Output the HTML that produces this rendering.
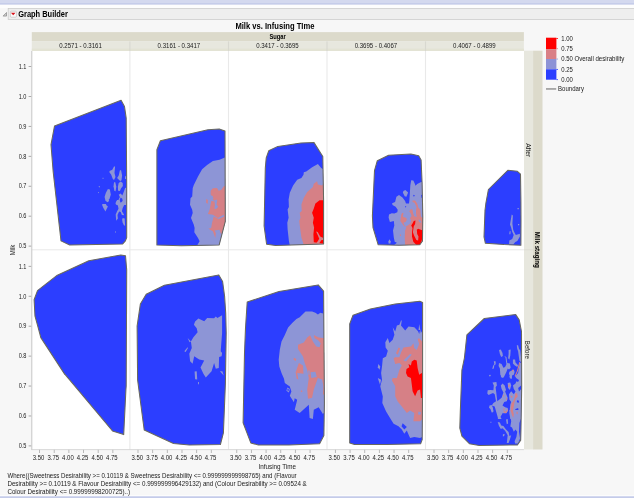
<!DOCTYPE html>
<html><head><meta charset="utf-8"><title>Graph Builder</title>
<style>
html,body{margin:0;padding:0;background:#f7f7f7;}
body{width:634px;height:498px;overflow:hidden;position:relative;font-family:"Liberation Sans", sans-serif;}
svg{position:absolute;left:0;top:0;display:block;}
svg text{font-family:"Liberation Sans", sans-serif;}
</style></head><body>
<svg width="634" height="498" viewBox="0 0 634 498">
<rect x="0" y="0" width="634" height="498" fill="#f7f7f7"/>
<rect x="0" y="0" width="634" height="3" fill="#d4d9ef"/>
<rect x="0" y="3" width="634" height="1.8" fill="#c6cdea"/>
<rect x="0" y="4.8" width="634" height="3.4" fill="#fdfdfd"/>
<rect x="0" y="495.2" width="634" height="1" fill="#fdfdfd"/>
<rect x="0" y="496" width="634" height="1" fill="#d3d8ef"/>
<rect x="0" y="497" width="634" height="1" fill="#c4cbe9"/>
<rect x="8.2" y="8.4" width="634" height="11.1" fill="#eeeeee" stroke="#cdcdcd" stroke-width="0.8"/>
<path d="M3.1 16.1 L6.5 16.1 L6.5 12.5 Z" fill="#cfcfcf" stroke="#777" stroke-width="0.6"/>
<rect x="10.4" y="11.2" width="6" height="6" rx="0.8" fill="#fafafa" stroke="#b9b9b9" stroke-width="0.6"/>
<path d="M10.9 12.7 L15.5 12.7 L13.2 15.3 Z" fill="#d8141c"/>
<text x="18.2" y="16.9" font-size="8.3" text-anchor="start" font-weight="bold" fill="#000" textLength="49.7" lengthAdjust="spacingAndGlyphs">Graph Builder</text>
<text x="274.9" y="28.9" font-size="8.6" text-anchor="middle" font-weight="bold" fill="#000" textLength="79" lengthAdjust="spacingAndGlyphs">Milk vs. Infusing TIme</text>
<rect x="31.8" y="32.1" width="492.09999999999997" height="9" fill="#dcdacb"/>
<text x="277.6" y="38.6" font-size="6.4" text-anchor="middle" font-weight="bold" fill="#000" textLength="16.4" lengthAdjust="spacingAndGlyphs">Sugar</text>
<rect x="31.8" y="41.1" width="492.09999999999997" height="9.9" fill="#e7e7de"/>
<rect x="31.8" y="48.6" width="492.09999999999997" height="2.4" fill="#e3e3d4"/>
<text x="80.55" y="47.8" font-size="6.4" text-anchor="middle" font-weight="normal" fill="#1a1a1a" textLength="42.6" lengthAdjust="spacingAndGlyphs">0.2571 - 0.3161</text>
<text x="178.9" y="47.8" font-size="6.4" text-anchor="middle" font-weight="normal" fill="#1a1a1a" textLength="42.6" lengthAdjust="spacingAndGlyphs">0.3161 - 0.3417</text>
<text x="277.45" y="47.8" font-size="6.4" text-anchor="middle" font-weight="normal" fill="#1a1a1a" textLength="42.6" lengthAdjust="spacingAndGlyphs">0.3417 - 0.3695</text>
<text x="375.95" y="47.8" font-size="6.4" text-anchor="middle" font-weight="normal" fill="#1a1a1a" textLength="42.6" lengthAdjust="spacingAndGlyphs">0.3695 - 0.4067</text>
<text x="474.4" y="47.8" font-size="6.4" text-anchor="middle" font-weight="normal" fill="#1a1a1a" textLength="42.6" lengthAdjust="spacingAndGlyphs">0.4067 - 0.4899</text>
<rect x="129.35" y="41.4" width="1.1" height="9.6" fill="#d8d8d0"/>
<rect x="227.95" y="41.4" width="1.1" height="9.6" fill="#d8d8d0"/>
<rect x="326.45" y="41.4" width="1.1" height="9.6" fill="#d8d8d0"/>
<rect x="424.95" y="41.4" width="1.1" height="9.6" fill="#d8d8d0"/>
<rect x="31.8" y="51.0" width="492.09999999999997" height="398.5" fill="#ffffff"/>
<rect x="524.0" y="50.7" width="9.2" height="398.8" fill="#e7e7de"/>
<rect x="533.1" y="50.7" width="9.4" height="398.8" fill="#dcdacb"/>
<rect x="524.0" y="249.3" width="8.9" height="1" fill="#dddcd3"/>
<text transform="translate(525.5,150.2) rotate(90)" font-size="6.4" text-anchor="middle" fill="#1a1a1a" textLength="14" lengthAdjust="spacingAndGlyphs">After</text>
<text transform="translate(525.4,349.9) rotate(90)" font-size="6.4" text-anchor="middle" fill="#1a1a1a" textLength="18.1" lengthAdjust="spacingAndGlyphs">Before</text>
<text transform="translate(534.9,249.8) rotate(90)" font-size="6.4" font-weight="bold" text-anchor="middle" fill="#000" textLength="36.2" lengthAdjust="spacingAndGlyphs">Milk staging</text>
<defs>
<clipPath id="cpt1"><rect x="31.8" y="51.0" width="97.80000000000001" height="198.8"/></clipPath>
<clipPath id="cot1"><polygon points="54.5,126.1 121.1,100.3 124.5,106.6 126.2,118.2 126.7,184.6 126.7,237.6 125.4,240.9 122.7,243.9 69.7,245.0 61.0,240.9 53.2,172.0 51.0,144.7"/></clipPath>
<clipPath id="cpt2"><rect x="129.9" y="51.0" width="98.3" height="198.8"/></clipPath>
<clipPath id="cot2"><polygon points="156.9,149.7 160.4,140.7 207.9,129.8 219.2,128.9 225.0,131.1 225.3,221.4 219.2,244.9 181.4,245.7 156.9,244.9"/></clipPath>
<clipPath id="cpt3"><rect x="228.5" y="51.0" width="98.2" height="198.8"/></clipPath>
<clipPath id="cot3"><polygon points="265.3,168.1 266.2,158.0 268.7,150.8 277.8,146.4 301.0,142.9 313.9,142.4 322.8,156.5 323.6,201.1 323.6,243.9 275.7,245.5 266.6,244.2 264.1,226.0"/></clipPath>
<clipPath id="cpt4"><rect x="327.0" y="51.0" width="98.2" height="198.8"/></clipPath>
<clipPath id="cot4"><polygon points="374.5,170.6 377.3,160.7 388.6,155.2 410.9,154.1 418.7,155.7 421.1,159.9 422.1,183.1 422.8,216.7 422.5,241.0 419.8,244.8 399.0,245.3 378.2,244.8 373.0,227.5 372.4,216.0"/></clipPath>
<clipPath id="cpt5"><rect x="425.5" y="51.0" width="98.09999999999998" height="198.8"/></clipPath>
<clipPath id="cot5"><polygon points="488.4,189.5 507.8,170.3 517.4,171.3 520.5,174.1 520.9,200.0 521.0,220.5 520.9,245.2 504.0,244.6 485.4,243.3 484.0,236.9 485.0,210.3 485.9,203.1"/></clipPath>
<clipPath id="cpb1"><rect x="31.8" y="249.8" width="97.80000000000001" height="199.7"/></clipPath>
<clipPath id="cob1"><polygon points="34.1,299.7 37.5,290.6 57.3,275.2 88.8,260.8 120.8,255.0 125.5,255.8 126.7,269.9 126.2,386.0 125.9,389.9 123.7,434.6 112.5,430.9 64.8,374.1 64.8,374.4 40.8,337.6 38.3,328.0 35.0,316.2"/></clipPath>
<clipPath id="cpb2"><rect x="129.9" y="249.8" width="98.3" height="199.7"/></clipPath>
<clipPath id="cob2"><polygon points="137.1,326.2 140.4,303.9 146.2,294.3 164.4,285.2 218.8,274.9 222.6,281.5 224.6,296.4 225.7,313.0 226.2,333.1 225.4,383.2 223.4,432.9 220.4,444.5 189.3,444.9 173.5,443.4 144.2,430.0 137.6,379.9"/></clipPath>
<clipPath id="cpb3"><rect x="228.5" y="249.8" width="98.2" height="199.7"/></clipPath>
<clipPath id="cob3"><polygon points="247.2,302.0 279.0,291.5 318.2,284.9 323.6,291.2 324.4,403.1 323.9,435.4 319.6,443.7 288.9,445.0 258.3,445.0 250.8,442.9 243.1,422.7 244.5,353.1 245.5,328.0"/></clipPath>
<clipPath id="cpb4"><rect x="327.0" y="249.8" width="98.2" height="199.7"/></clipPath>
<clipPath id="cob4"><polygon points="349.7,324.0 353.0,315.2 370.4,309.0 395.2,304.1 419.8,301.3 422.6,302.4 422.6,386.6 422.2,439.6 420.6,443.7 386.9,444.5 354.6,444.4 349.7,442.9"/></clipPath>
<clipPath id="cpb5"><rect x="425.5" y="249.8" width="98.09999999999998" height="199.7"/></clipPath>
<clipPath id="cob5"><polygon points="466.9,334.8 484.3,318.5 515.7,314.6 519.2,319.9 521.5,331.5 521.7,386.6 521.0,428.0 520.7,440.2 517.4,445.0 479.3,445.4 469.4,443.7 461.9,436.2 459.8,428.0 460.3,411.4 461.9,370.0 464.4,358.0"/></clipPath>
</defs>
<g clip-path="url(#cpt1)">
<polygon points="54.5,126.1 121.1,100.3 124.5,106.6 126.2,118.2 126.7,184.6 126.7,237.6 125.4,240.9 122.7,243.9 69.7,245.0 61.0,240.9 53.2,172.0 51.0,144.7" fill="#2c3eff"/>
<g clip-path="url(#cot1)">
<polygon points="109.5,171.0 112.3,169.8 114.0,166.6 115.1,166.6 114.5,173.0 115.5,177.0 114.0,179.9 112.7,178.7 111.1,174.6 109.5,172.6" fill="#8d95d6"/>
<polygon points="119.9,170.2 121.1,170.2 122.1,175.4 121.5,180.3 120.3,181.1 119.1,179.9 117.1,177.9 118.7,175.4" fill="#8d95d6"/>
<polygon points="125.1,176.2 126.1,176.2 126.1,179.1 125.1,179.1" fill="#8d95d6"/>
<polygon points="114.0,182.3 115.3,182.3 116.3,186.7 115.5,191.5 114.3,190.3 113.5,186.3" fill="#8d95d6"/>
<polygon points="118.7,183.1 120.7,181.5 122.7,183.1 122.9,185.9 121.1,188.3 119.9,191.1 118.1,190.7 117.9,186.7" fill="#8d95d6"/>
<polygon points="107.9,189.1 109.9,189.5 110.8,194.7 109.5,198.7 107.1,202.1 105.4,200.3 104.6,197.1 105.9,192.7" fill="#8d95d6"/>
<polygon points="125.1,187.9 126.7,187.5 126.7,205.0 116.3,205.0 117.5,201.9 119.9,197.1 118.7,194.7 120.7,193.5 122.3,195.5 123.9,191.5" fill="#8d95d6"/>
<polygon points="120.7,197.5 122.3,198.7 122.7,201.1 120.7,202.8 119.5,200.3" fill="#2c3eff"/>
<polygon points="102.4,178.3 103.0,177.6 103.7,178.3 103.0,178.9" fill="#8d95d6"/>
<polygon points="98.5,186.7 99.3,185.9 100.1,186.7 99.3,187.5" fill="#8d95d6"/>
<polygon points="97.8,192.6 98.5,191.9 99.1,192.6 98.5,193.2" fill="#8d95d6"/>
<polygon points="102.6,204.0 105.9,204.0 106.3,205.0 102.2,205.0" fill="#8d95d6"/>
<polygon points="106.3,200.0 109.1,200.0 108.7,201.6 107.1,202.2" fill="#8d95d6"/>
<polygon points="102.0,204.7 105.0,204.0 107.9,206.4 105.4,211.6 103.4,208.0" fill="#8d95d6"/>
<polygon points="117.1,200.0 119.5,200.0 120.3,203.2 121.9,204.0 123.1,200.0 125.1,200.0 124.7,204.0 122.7,208.0 121.9,211.2 123.5,213.7 124.3,215.3 121.9,214.9 120.7,212.0 119.1,211.6 117.5,214.9 117.9,218.5 116.3,220.7 115.9,217.3 115.7,214.5 117.1,211.2 118.5,208.8 117.9,205.6 115.5,204.0 115.9,202.0" fill="#8d95d6"/>
<polygon points="122.7,218.1 124.7,218.5 125.1,225.7 123.9,225.3 122.6,222.5 122.1,219.7" fill="#8d95d6"/>
<polygon points="114.8,232.0 115.5,231.2 116.2,232.0 115.5,232.7" fill="#8d95d6"/>
</g>
<polygon points="54.5,126.1 121.1,100.3 124.5,106.6 126.2,118.2 126.7,184.6 126.7,237.6 125.4,240.9 122.7,243.9 69.7,245.0 61.0,240.9 53.2,172.0 51.0,144.7" fill="none" stroke="#68685f" stroke-width="1.05" stroke-linejoin="round"/>
</g>
<g clip-path="url(#cpt2)">
<polygon points="156.9,149.7 160.4,140.7 207.9,129.8 219.2,128.9 225.0,131.1 225.3,221.4 219.2,244.9 181.4,245.7 156.9,244.9" fill="#2c3eff"/>
<g clip-path="url(#cot2)">
<polygon points="226.4,156.8 219.5,159.8 212.9,160.9 207.1,165.1 202.1,169.2 198.0,176.6 193.8,184.9 192.7,188.3 192.2,196.6 190.5,198.2 190.0,204.8 192.2,209.8 192.7,213.1 191.0,218.1 193.8,224.7 194.6,228.0 194.3,232.2 198.0,238.0 199.6,241.3 197.1,245.4 219.2,245.4 226.9,221.4" fill="#8d95d6"/>
<polygon points="226.4,185.0 223.6,186.6 221.1,189.9 218.7,190.8 217.0,187.9 212.9,188.3 210.7,190.8 210.7,194.9 213.2,196.6 211.2,201.5 209.6,209.8 207.9,213.9 212.9,214.8 217.8,218.1 223.6,214.8 224.1,216.4 218.7,218.9 213.7,216.4 212.0,223.1 211.2,228.0 208.4,228.8 212.9,231.3 215.3,238.0 215.8,233.0 214.5,230.5 219.5,229.7 221.1,234.6 226.9,221.4" fill="#d68086"/>
<polygon points="209.7,199.7 212.5,197.7 213.7,198.5 212.5,200.1 214.5,200.5 216.5,199.5 217.3,200.5 216.5,204.5 218.1,206.5 216.9,208.5 214.5,208.9 214.9,204.5 214.5,201.4 212.1,200.9 210.1,200.5" fill="#8d95d6"/>
<polygon points="206.2,199.0 207.9,199.9 207.6,204.0 206.2,202.4" fill="#d68086"/>
</g>
<polygon points="156.9,149.7 160.4,140.7 207.9,129.8 219.2,128.9 225.0,131.1 225.3,221.4 219.2,244.9 181.4,245.7 156.9,244.9" fill="none" stroke="#68685f" stroke-width="1.05" stroke-linejoin="round"/>
</g>
<g clip-path="url(#cpt3)">
<polygon points="265.3,168.1 266.2,158.0 268.7,150.8 277.8,146.4 301.0,142.9 313.9,142.4 322.8,156.5 323.6,201.1 323.6,243.9 275.7,245.5 266.6,244.2 264.1,226.0" fill="#2c3eff"/>
<g clip-path="url(#cot3)">
<polygon points="324.0,169.7 321.2,168.1 317.9,163.9 312.1,167.2 306.3,171.4 303.8,172.2 303.5,174.7 301.4,178.0 297.2,179.7 293.1,185.4 289.8,192.8 288.6,199.5 288.9,206.9 287.6,209.4 288.6,217.7 287.3,222.7 287.6,229.3 288.9,240.9 289.8,245.5 324.5,245.0" fill="#8d95d6"/>
<polygon points="324.0,182.9 322.1,185.4 317.9,184.6 317.1,181.2 313.8,183.7 312.9,187.0 307.2,192.0 303.8,197.8 301.4,204.4 301.7,211.1 299.7,212.7 300.5,217.7 299.2,221.0 300.5,230.9 301.4,237.6 303.8,245.0 324.5,245.0" fill="#d68086"/>
<polygon points="324.0,200.3 319.6,200.3 315.4,203.6 313.8,208.6 312.1,212.7 313.8,217.7 312.9,222.7 314.1,227.6 313.4,234.2 313.8,242.2 318.7,242.9 324.5,243.9" fill="#ff0000"/>
<polygon points="316.1,231.6 317.7,232.1 320.2,236.6 323.4,238.0 323.4,239.7 321.2,240.2 319.7,242.7 316.1,243.4 317.7,241.2 319.2,238.7 317.7,235.1" fill="#d68086"/>
</g>
<polygon points="265.3,168.1 266.2,158.0 268.7,150.8 277.8,146.4 301.0,142.9 313.9,142.4 322.8,156.5 323.6,201.1 323.6,243.9 275.7,245.5 266.6,244.2 264.1,226.0" fill="none" stroke="#68685f" stroke-width="1.05" stroke-linejoin="round"/>
</g>
<g clip-path="url(#cpt4)">
<polygon points="374.5,170.6 377.3,160.7 388.6,155.2 410.9,154.1 418.7,155.7 421.1,159.9 422.1,183.1 422.8,216.7 422.5,241.0 419.8,244.8 399.0,245.3 378.2,244.8 373.0,227.5 372.4,216.0" fill="#2c3eff"/>
<g clip-path="url(#cot4)">
<polygon points="411.2,180.2 413.3,180.6 414.6,183.2 415.5,185.8 417.2,184.1 421.1,181.9 423.3,182.4 423.3,245.3 393.8,245.3 396.9,242.7 394.7,241.8 393.8,237.5 393.0,230.6 394.3,225.4 393.8,221.0 389.9,221.9 388.6,217.5 389.0,214.5 391.7,213.2 394.3,213.6 397.3,212.3 397.7,209.7 395.6,206.7 392.5,204.9 392.1,203.2 395.1,201.9 396.4,196.7 399.0,195.1 402.5,197.6 405.1,201.0 406.0,203.6 409.0,203.6 409.4,200.2 409.9,192.4 410.3,185.4" fill="#8d95d6"/>
<polygon points="403.4,191.0 405.3,189.9 408.1,192.4 406.4,196.7 404.7,196.3 402.9,192.8" fill="#8d95d6"/>
<polygon points="389.5,239.2 390.8,241.4 390.4,243.6 388.6,243.6 388.4,241.4" fill="#8d95d6"/>
<polygon points="413.1,195.6 413.9,194.8 414.8,195.6 413.9,196.7" fill="#2c3eff"/>
<polygon points="404.9,206.7 405.6,206.0 406.3,206.8 405.6,207.6" fill="#2c3eff"/>
<polygon points="421.1,195.0 423.3,194.5 423.3,198.4 421.6,198.0" fill="#2c3eff"/>
<polygon points="405.1,245.3 404.7,237.5 405.1,230.6 406.4,227.5 403.4,225.4 401.6,222.7 400.3,221.0 400.8,217.5 402.1,213.2 403.4,213.2 402.9,216.7 406.4,218.0 406.8,220.1 405.5,221.9 403.4,222.7 405.1,226.7 407.7,225.4 410.3,223.6 411.2,220.1 409.9,218.4 411.6,215.8 411.2,213.2 409.4,211.5 411.6,209.7 412.9,212.3 413.8,215.8 415.5,217.1 414.6,213.2 416.4,208.0 419.0,208.0 419.8,213.2 421.1,216.7 423.3,218.4 423.3,245.3" fill="#d68086"/>
<polygon points="412.5,200.6 415.1,200.6 417.2,203.6 418.5,208.0 420.3,209.7 420.7,214.9 419.8,217.9 418.1,217.9 418.5,213.2 417.2,209.7 415.9,205.4 414.6,202.8 412.5,201.9" fill="#d68086"/>
<polygon points="411.2,208.8 412.5,209.7 412.9,213.2 413.8,215.8 414.6,217.9 412.9,217.9 411.6,214.9 409.9,212.3 409.4,211.0" fill="#d68086"/>
<polygon points="402.1,212.7 403.4,213.2 402.5,215.8 402.1,217.9 400.8,217.9 401.2,214.9" fill="#d68086"/>
<polygon points="399.9,234.5 400.9,234.5 400.9,235.9 399.9,235.9" fill="#d68086"/>
<polygon points="419.0,219.3 420.7,221.0 421.6,222.7 419.8,222.3 418.5,221.0" fill="#8d95d6"/>
<polygon points="414.6,208.0 416.2,208.0 415.9,213.2 416.8,216.7 415.5,216.7 414.5,213.2" fill="#8d95d6"/>
<polygon points="413.8,221.0 415.5,220.6 415.1,224.0 413.8,226.2 412.9,232.3 414.2,235.8 416.4,240.1 418.1,240.5 418.5,236.6 417.2,234.0 416.8,229.7 418.1,228.8 422.9,230.6 422.9,234.9 421.6,241.0 419.8,244.9 416.4,245.1 413.3,241.8 412.0,236.6 412.0,232.3 412.5,228.0 411.2,225.4 412.5,223.6" fill="#ff0000"/>
</g>
<polygon points="374.5,170.6 377.3,160.7 388.6,155.2 410.9,154.1 418.7,155.7 421.1,159.9 422.1,183.1 422.8,216.7 422.5,241.0 419.8,244.8 399.0,245.3 378.2,244.8 373.0,227.5 372.4,216.0" fill="none" stroke="#68685f" stroke-width="1.05" stroke-linejoin="round"/>
</g>
<g clip-path="url(#cpt5)">
<polygon points="488.4,189.5 507.8,170.3 517.4,171.3 520.5,174.1 520.9,200.0 521.0,220.5 520.9,245.2 504.0,244.6 485.4,243.3 484.0,236.9 485.0,210.3 485.9,203.1" fill="#2c3eff"/>
<g clip-path="url(#cot5)">
<polygon points="511.7,214.4 512.9,215.4 512.4,223.6 513.2,229.7 514.3,232.3 515.8,234.9 519.9,233.8 519.9,236.4 517.3,241.0 515.3,242.0 513.2,244.6 509.1,244.3 509.3,240.5 512.2,239.0 513.7,234.9 512.2,231.8 511.2,227.7 510.0,224.6 510.7,220.5" fill="#8d95d6"/>
<polygon points="517.5,208.1 518.8,208.1 518.8,209.3 517.5,209.3" fill="#8d95d6"/>
<polygon points="518.0,224.0 519.2,224.0 519.2,225.2 518.0,225.2" fill="#8d95d6"/>
<polygon points="509.6,231.3 510.7,231.3 510.4,234.3 509.3,234.3" fill="#8d95d6"/>
</g>
<polygon points="488.4,189.5 507.8,170.3 517.4,171.3 520.5,174.1 520.9,200.0 521.0,220.5 520.9,245.2 504.0,244.6 485.4,243.3 484.0,236.9 485.0,210.3 485.9,203.1" fill="none" stroke="#68685f" stroke-width="1.05" stroke-linejoin="round"/>
</g>
<g clip-path="url(#cpb1)">
<polygon points="34.1,299.7 37.5,290.6 57.3,275.2 88.8,260.8 120.8,255.0 125.5,255.8 126.7,269.9 126.2,386.0 125.9,389.9 123.7,434.6 112.5,430.9 64.8,374.1 64.8,374.4 40.8,337.6 38.3,328.0 35.0,316.2" fill="#2c3eff"/>
<g clip-path="url(#cob1)">
</g>
<polygon points="34.1,299.7 37.5,290.6 57.3,275.2 88.8,260.8 120.8,255.0 125.5,255.8 126.7,269.9 126.2,386.0 125.9,389.9 123.7,434.6 112.5,430.9 64.8,374.1 64.8,374.4 40.8,337.6 38.3,328.0 35.0,316.2" fill="none" stroke="#68685f" stroke-width="1.05" stroke-linejoin="round"/>
</g>
<g clip-path="url(#cpb2)">
<polygon points="137.1,326.2 140.4,303.9 146.2,294.3 164.4,285.2 218.8,274.9 222.6,281.5 224.6,296.4 225.7,313.0 226.2,333.1 225.4,383.2 223.4,432.9 220.4,444.5 189.3,444.9 173.5,443.4 144.2,430.0 137.6,379.9" fill="#2c3eff"/>
<g clip-path="url(#cob2)">
<polygon points="198.4,318.5 204.2,321.2 207.2,317.9 214.1,318.2 215.8,316.6 217.4,317.9 222.1,315.2 222.1,333.1 220.7,351.3 222.1,353.0 221.6,356.3 219.1,357.1 218.8,367.9 215.8,368.7 214.1,362.9 211.6,371.2 205.8,377.5 203.4,373.7 200.5,367.6 204.2,360.4 199.2,359.6 194.2,356.3 192.6,363.8 190.1,361.3 189.3,353.8 191.8,348.0 190.9,341.4 193.4,337.3 197.6,332.3 196.7,328.2 193.9,324.8 195.1,321.5" fill="#8d95d6"/>
<polygon points="187.6,338.1 190.9,341.4 189.6,342.2" fill="#8d95d6"/>
<polygon points="184.3,351.3 187.6,347.2 188.0,348.0 185.6,352.0" fill="#8d95d6"/>
<polygon points="194.6,371.5 196.7,371.2 197.2,379.5 195.1,379.2" fill="#8d95d6"/>
<polygon points="219.9,371.2 222.4,371.2 223.7,375.4" fill="#8d95d6"/>
<polygon points="198.1,381.9 199.0,381.9 199.0,384.2 198.1,384.2" fill="#8d95d6"/>
</g>
<polygon points="137.1,326.2 140.4,303.9 146.2,294.3 164.4,285.2 218.8,274.9 222.6,281.5 224.6,296.4 225.7,313.0 226.2,333.1 225.4,383.2 223.4,432.9 220.4,444.5 189.3,444.9 173.5,443.4 144.2,430.0 137.6,379.9" fill="none" stroke="#68685f" stroke-width="1.05" stroke-linejoin="round"/>
</g>
<g clip-path="url(#cpb3)">
<polygon points="247.2,302.0 279.0,291.5 318.2,284.9 323.6,291.2 324.4,403.1 323.9,435.4 319.6,443.7 288.9,445.0 258.3,445.0 250.8,442.9 243.1,422.7 244.5,353.1 245.5,328.0" fill="#2c3eff"/>
<g clip-path="url(#cob3)">
<polygon points="325.0,313.9 320.4,312.7 317.9,314.4 315.4,312.7 312.1,311.4 305.5,311.4 299.7,317.2 296.4,318.9 292.2,323.0 288.1,327.5 284.8,334.9 281.5,341.5 279.8,349.8 278.7,359.7 279.3,366.4 281.5,373.0 284.0,378.8 284.8,382.9 289.8,386.6 291.4,391.5 289.8,395.7 293.9,402.3 294.7,398.2 297.2,399.8 294.7,409.7 299.7,413.1 308.8,404.8 309.6,418.0 312.9,418.9 313.8,409.7 318.7,407.3 322.9,413.9 325.4,411.4" fill="#8d95d6"/>
<polygon points="287.3,387.4 289.8,389.0 288.9,392.4 286.4,390.7" fill="#8d95d6"/>
<polygon points="287.6,388.5 288.9,389.5 288.4,391.2 287.3,390.2" fill="#2c3eff"/>
<polygon points="310.1,335.2 312.9,341.5 316.3,346.5 319.6,347.3 320.7,343.2 317.9,339.9 314.6,338.2 313.8,334.9 318.7,337.4 325.0,338.2 325.0,394.5 322.9,394.5 323.4,386.2 322.1,379.6 317.9,378.0 313.8,389.6 312.1,397.8 308.0,398.7 307.2,389.6 308.8,378.0 307.2,369.7 304.7,363.1 303.0,356.4 298.0,349.0 298.0,344.8 303.8,342.4 307.2,337.4" fill="#d68086"/>
<polygon points="310.5,372.2 315.4,371.7 316.8,377.1 311.3,378.0" fill="#8d95d6"/>
<polygon points="308.3,370.5 309.6,370.5 309.6,374.7 308.3,374.7" fill="#8d95d6"/>
<polygon points="298.9,363.1 303.0,365.5 303.5,373.8 297.2,373.0 298.4,379.6 296.7,378.8 295.6,372.2" fill="#d68086"/>
<polygon points="293.9,357.8 296.4,358.9 295.6,361.1 293.6,359.7" fill="#d68086"/>
<polygon points="300.9,390.4 302.2,390.4 302.2,392.0 300.9,392.0" fill="#d68086"/>
</g>
<polygon points="247.2,302.0 279.0,291.5 318.2,284.9 323.6,291.2 324.4,403.1 323.9,435.4 319.6,443.7 288.9,445.0 258.3,445.0 250.8,442.9 243.1,422.7 244.5,353.1 245.5,328.0" fill="none" stroke="#68685f" stroke-width="1.05" stroke-linejoin="round"/>
</g>
<g clip-path="url(#cpb4)">
<polygon points="349.7,324.0 353.0,315.2 370.4,309.0 395.2,304.1 419.8,301.3 422.6,302.4 422.6,386.6 422.2,439.6 420.6,443.7 386.9,444.5 354.6,444.4 349.7,442.9" fill="#2c3eff"/>
<g clip-path="url(#cob4)">
<polygon points="423.4,328.9 420.9,333.1 419.2,324.0 418.4,331.4 414.3,327.3 408.5,326.4 405.2,330.6 401.0,325.6 401.8,320.6 401.0,320.6 399.4,324.8 396.9,325.6 395.2,331.4 392.7,327.3 394.4,334.7 392.7,339.7 389.4,343.0 387.8,338.0 385.3,342.2 385.6,347.4 387.8,350.7 386.1,356.5 382.8,358.2 382.0,366.4 381.1,373.1 382.0,379.7 380.3,386.3 380.3,386.6 382.8,396.5 382.3,403.1 386.1,411.4 391.1,419.7 393.6,423.8 398.5,426.3 401.8,429.6 404.3,433.8 406.8,430.4 408.5,434.6 410.1,437.9 414.3,437.1 420.1,437.9 423.4,436.2" fill="#8d95d6"/>
<polygon points="378.3,364.0 380.3,366.4 379.5,369.7 377.8,367.3" fill="#8d95d6"/>
<polygon points="377.8,378.0 381.1,379.7 380.0,384.7" fill="#8d95d6"/>
<polygon points="402.7,423.3 406.8,427.1 404.3,429.6 401.5,426.3" fill="#2c3eff"/>
<polygon points="417.6,330.0 420.1,330.0 419.2,334.1" fill="#2c3eff"/>
<polygon points="423.0,342.4 419.2,338.3 417.6,339.1 419.2,344.1 416.7,349.9 414.3,348.2 413.4,343.2 410.9,346.6 403.5,347.4 401.0,352.4 399.4,357.3 395.2,357.3 393.6,358.2 395.2,364.0 399.4,363.1 401.8,365.6 399.4,369.7 396.9,378.0 392.7,378.0 391.9,380.5 395.2,386.3 395.2,396.2 397.7,401.5 401.8,406.4 406.8,413.1 410.1,410.6 414.3,413.1 413.4,421.3 420.1,421.3 423.4,418.0" fill="#d68086"/>
<polygon points="398.5,347.4 400.2,348.2 397.7,354.8 396.0,353.2" fill="#d68086"/>
<polygon points="403.5,360.6 410.1,354.0 411.8,354.8 406.0,361.5" fill="#8d95d6"/>
<polygon points="418.4,411.4 420.9,412.2 420.4,414.7 418.1,414.4" fill="#8d95d6"/>
<polygon points="414.3,359.8 416.7,360.6 417.6,368.1 419.2,374.7 423.0,372.2 423.0,397.9 420.9,397.9 420.1,389.6 417.6,390.4 415.1,396.2 412.6,391.3 411.8,384.7 410.9,378.0 407.6,376.4 406.0,373.1 406.5,368.9 409.3,367.3 408.5,364.0 410.9,365.6 411.8,361.5" fill="#ff0000"/>
</g>
<polygon points="349.7,324.0 353.0,315.2 370.4,309.0 395.2,304.1 419.8,301.3 422.6,302.4 422.6,386.6 422.2,439.6 420.6,443.7 386.9,444.5 354.6,444.4 349.7,442.9" fill="none" stroke="#68685f" stroke-width="1.05" stroke-linejoin="round"/>
</g>
<g clip-path="url(#cpb5)">
<polygon points="466.9,334.8 484.3,318.5 515.7,314.6 519.2,319.9 521.5,331.5 521.7,386.6 521.0,428.0 520.7,440.2 517.4,445.0 479.3,445.4 469.4,443.7 461.9,436.2 459.8,428.0 460.3,411.4 461.9,370.0 464.4,358.0" fill="#2c3eff"/>
<g clip-path="url(#cob5)">
<polygon points="499.0,350.0 500.8,349.5 502.5,353.0 502.9,356.0 501.2,356.9 499.9,353.9" fill="#8d95d6"/>
<polygon points="508.6,350.0 510.7,349.5 510.3,355.6 509.4,359.5 508.1,358.2 508.6,353.9" fill="#8d95d6"/>
<polygon points="516.8,345.2 518.1,345.2 519.0,348.7 520.3,350.4 521.6,362.6 519.4,360.8 518.1,351.3 517.2,348.7" fill="#8d95d6"/>
<polygon points="493.8,361.3 495.6,361.3 495.7,364.3 494.3,365.2 493.8,368.6 492.3,369.1 493.0,366.0 494.3,363.9" fill="#8d95d6"/>
<polygon points="499.0,363.0 501.6,363.9 503.4,367.8 505.1,366.9 506.4,364.3 505.5,357.4 504.2,356.0 506.4,356.9 507.3,363.0 509.9,363.4 510.7,367.8 509.0,369.5 507.7,368.6 506.4,372.1 504.2,376.4 502.1,377.7 500.3,374.7 499.9,368.6 498.6,366.0" fill="#8d95d6"/>
<polygon points="512.9,359.5 515.1,359.5 515.5,362.6 518.1,365.2 517.2,366.9 514.6,365.2 512.9,363.4" fill="#8d95d6"/>
<polygon points="509.4,371.7 511.2,370.8 513.8,369.5 514.6,372.1 513.8,374.7 512.0,375.6 511.6,378.6 510.3,377.3 509.0,373.8" fill="#8d95d6"/>
<polygon points="489.0,375.1 490.4,374.7 490.8,376.0 489.5,376.4" fill="#8d95d6"/>
<polygon points="519.8,362.6 521.6,363.4 521.6,382.9 519.8,382.9 519.0,379.9 516.4,378.2 515.1,376.4 518.1,373.0" fill="#8d95d6"/>
<polygon points="519.4,361.7 520.3,362.6 518.1,370.4 515.5,376.4 514.6,376.0 516.8,371.2" fill="#d68086"/>
<polygon points="512.2,369.5 513.3,369.9 513.1,371.7 512.0,371.2" fill="#d68086"/>
<polygon points="492.5,382.5 496.4,382.1 496.9,385.5 495.6,387.3 496.4,393.4 497.3,401.2 501.6,397.7 503.4,392.5 501.6,389.0 500.8,385.5 502.5,383.4 504.7,385.5 506.0,389.9 505.1,391.6 507.7,397.7 506.8,401.2 504.2,402.0 502.5,405.5 505.1,407.2 507.7,408.1 508.1,410.7 506.4,413.3 503.4,413.3 500.8,412.4 499.0,414.2 501.6,418.9 498.2,418.9 496.4,412.4 494.7,406.4 491.7,405.5 493.4,402.9 496.0,401.2 494.7,394.2 493.0,392.9 488.6,395.1 487.3,393.4 487.7,390.3 490.4,389.9 493.4,390.3 493.8,385.5" fill="#8d95d6"/>
<polygon points="489.5,405.5 491.7,405.1 493.0,408.1 493.4,412.0 491.7,412.4 490.4,409.0 489.0,407.7" fill="#8d95d6"/>
<polygon points="512.9,385.5 515.5,383.4 516.4,381.2 518.1,382.1 519.8,378.6 521.6,378.6 521.6,418.9 510.3,418.9 509.4,413.3 510.3,404.6 511.2,402.0 509.4,399.4 509.0,394.2 511.2,391.2 513.8,394.2 515.5,391.6 513.8,389.0" fill="#8d95d6"/>
<polygon points="507.7,382.9 510.3,382.5 511.2,385.5 509.9,389.9 508.1,388.1" fill="#8d95d6"/>
<polygon points="500.8,376.0 504.2,376.0 503.4,377.7 501.2,377.3" fill="#8d95d6"/>
<polygon points="509.4,376.0 512.0,376.0 511.6,379.0 509.9,378.2" fill="#8d95d6"/>
<polygon points="518.1,388.1 521.1,385.5 521.1,389.0 519.0,391.6" fill="#2c3eff"/>
<polygon points="515.5,409.0 518.1,408.1 519.0,412.4 516.4,414.2 514.6,411.6" fill="#2c3eff"/>
<polygon points="517.2,400.3 519.0,400.7 518.5,402.9 516.8,402.0" fill="#2c3eff"/>
<polygon points="515.5,392.9 517.2,393.4 517.7,396.4 515.9,398.6 514.6,402.0 513.8,406.4 512.9,410.7 513.3,414.2 513.8,417.6 512.9,416.8 511.2,412.4 510.7,408.1 511.6,402.9 513.3,401.2 514.6,397.7" fill="#d68086"/>
<polygon points="508.6,384.2 509.9,384.7 509.4,387.3 508.1,386.8" fill="#d68086"/>
<polygon points="510.7,395.5 512.5,396.0 512.0,397.7 510.7,397.3" fill="#d68086"/>
<polygon points="503.4,409.0 504.7,408.1 504.2,410.7 505.5,412.0 507.3,409.0 507.7,410.7 506.0,413.3 503.8,412.4" fill="#d68086"/>
<polygon points="502.9,394.7 504.2,395.1 503.8,397.3" fill="#d68086"/>
<polygon points="516.8,410.7 518.1,411.6 517.7,414.2 516.8,413.3" fill="#d68086"/>
<polygon points="506.0,397.7 507.0,398.1 507.3,399.9 506.2,399.4" fill="#d68086"/>
<polygon points="497.7,422.1 499.9,422.6 501.2,425.6 503.4,426.0 506.0,429.5 508.6,432.1 509.4,436.0 511.2,435.2 509.9,439.5 508.6,443.0 506.8,443.0 507.3,438.6 507.7,435.2 505.1,430.8 502.5,428.2 500.8,429.1 499.0,426.0" fill="#8d95d6"/>
<polygon points="506.0,419.5 507.7,419.1 508.1,423.4 506.8,424.3" fill="#8d95d6"/>
<polygon points="502.9,434.3 504.7,433.9 504.2,436.0 502.9,436.5" fill="#8d95d6"/>
<polygon points="491.2,410.0 493.4,410.0 492.5,412.6" fill="#8d95d6"/>
<polygon points="498.2,410.0 503.4,410.0 502.5,413.5 499.9,417.8 497.7,419.1 499.0,415.2" fill="#8d95d6"/>
<polygon points="509.4,410.0 521.6,410.0 520.9,418.7 519.4,423.0 519.0,431.7 520.0,438.6 518.1,443.4 515.1,443.4 514.6,441.2 516.4,436.9 517.2,431.7 515.5,429.5 513.8,431.7 512.0,427.4 510.3,426.5 511.2,421.3 510.3,416.1" fill="#8d95d6"/>
<polygon points="490.4,421.7 491.4,421.7 491.4,422.8 490.4,422.8" fill="#8d95d6"/>
<polygon points="510.3,410.0 512.9,410.0 513.8,414.3 513.3,417.8 512.0,415.2 511.2,412.6" fill="#d68086"/>
<polygon points="516.4,411.7 517.7,411.7 517.7,414.3 516.6,413.9" fill="#d68086"/>
</g>
<polygon points="466.9,334.8 484.3,318.5 515.7,314.6 519.2,319.9 521.5,331.5 521.7,386.6 521.0,428.0 520.7,440.2 517.4,445.0 479.3,445.4 469.4,443.7 461.9,436.2 459.8,428.0 460.3,411.4 461.9,370.0 464.4,358.0" fill="none" stroke="#68685f" stroke-width="1.05" stroke-linejoin="round"/>
</g>
<rect x="129.35" y="51.0" width="1.1" height="398.5" fill="#e9e9e9"/>
<rect x="227.95" y="51.0" width="1.1" height="398.5" fill="#e9e9e9"/>
<rect x="326.45" y="51.0" width="1.1" height="398.5" fill="#e9e9e9"/>
<rect x="424.95" y="51.0" width="1.1" height="398.5" fill="#e9e9e9"/>
<rect x="31.8" y="249.3" width="492.09999999999997" height="1" fill="#e9e9e9"/>
<rect x="31.3" y="51.0" width="1" height="399.0" fill="#c6c6c6"/>
<rect x="31.3" y="449.2" width="492.59999999999997" height="0.9" fill="#d4d4d4"/>
<rect x="28.6" y="245.65" width="2.6" height="0.9" fill="#a0a0a0"/>
<text x="26.5" y="248.35" font-size="6.4" text-anchor="end" font-weight="normal" fill="#1a1a1a" textLength="7.8" lengthAdjust="spacingAndGlyphs">0.5</text>
<rect x="28.6" y="215.72" width="2.6" height="0.9" fill="#a0a0a0"/>
<text x="26.5" y="218.42" font-size="6.4" text-anchor="end" font-weight="normal" fill="#1a1a1a" textLength="7.8" lengthAdjust="spacingAndGlyphs">0.6</text>
<rect x="28.6" y="185.79" width="2.6" height="0.9" fill="#a0a0a0"/>
<text x="26.5" y="188.49" font-size="6.4" text-anchor="end" font-weight="normal" fill="#1a1a1a" textLength="7.8" lengthAdjust="spacingAndGlyphs">0.7</text>
<rect x="28.6" y="155.86" width="2.6" height="0.9" fill="#a0a0a0"/>
<text x="26.5" y="158.56" font-size="6.4" text-anchor="end" font-weight="normal" fill="#1a1a1a" textLength="7.8" lengthAdjust="spacingAndGlyphs">0.8</text>
<rect x="28.6" y="125.93" width="2.6" height="0.9" fill="#a0a0a0"/>
<text x="26.5" y="128.63" font-size="6.4" text-anchor="end" font-weight="normal" fill="#1a1a1a" textLength="7.8" lengthAdjust="spacingAndGlyphs">0.9</text>
<rect x="28.6" y="96.00" width="2.6" height="0.9" fill="#a0a0a0"/>
<text x="26.5" y="98.7" font-size="6.4" text-anchor="end" font-weight="normal" fill="#1a1a1a" textLength="7.8" lengthAdjust="spacingAndGlyphs">1.0</text>
<rect x="28.6" y="66.07" width="2.6" height="0.9" fill="#a0a0a0"/>
<text x="26.5" y="68.77" font-size="6.4" text-anchor="end" font-weight="normal" fill="#1a1a1a" textLength="7.8" lengthAdjust="spacingAndGlyphs">1.1</text>
<rect x="28.6" y="445.45" width="2.6" height="0.9" fill="#a0a0a0"/>
<text x="26.5" y="448.15" font-size="6.4" text-anchor="end" font-weight="normal" fill="#1a1a1a" textLength="7.8" lengthAdjust="spacingAndGlyphs">0.5</text>
<rect x="28.6" y="415.52" width="2.6" height="0.9" fill="#a0a0a0"/>
<text x="26.5" y="418.22" font-size="6.4" text-anchor="end" font-weight="normal" fill="#1a1a1a" textLength="7.8" lengthAdjust="spacingAndGlyphs">0.6</text>
<rect x="28.6" y="385.59" width="2.6" height="0.9" fill="#a0a0a0"/>
<text x="26.5" y="388.29" font-size="6.4" text-anchor="end" font-weight="normal" fill="#1a1a1a" textLength="7.8" lengthAdjust="spacingAndGlyphs">0.7</text>
<rect x="28.6" y="355.66" width="2.6" height="0.9" fill="#a0a0a0"/>
<text x="26.5" y="358.36" font-size="6.4" text-anchor="end" font-weight="normal" fill="#1a1a1a" textLength="7.8" lengthAdjust="spacingAndGlyphs">0.8</text>
<rect x="28.6" y="325.73" width="2.6" height="0.9" fill="#a0a0a0"/>
<text x="26.5" y="328.43" font-size="6.4" text-anchor="end" font-weight="normal" fill="#1a1a1a" textLength="7.8" lengthAdjust="spacingAndGlyphs">0.9</text>
<rect x="28.6" y="295.80" width="2.6" height="0.9" fill="#a0a0a0"/>
<text x="26.5" y="298.5" font-size="6.4" text-anchor="end" font-weight="normal" fill="#1a1a1a" textLength="7.8" lengthAdjust="spacingAndGlyphs">1.0</text>
<rect x="28.6" y="265.87" width="2.6" height="0.9" fill="#a0a0a0"/>
<text x="26.5" y="268.57" font-size="6.4" text-anchor="end" font-weight="normal" fill="#1a1a1a" textLength="7.8" lengthAdjust="spacingAndGlyphs">1.1</text>
<text transform="translate(14.7,250) rotate(-90)" font-size="6.4" text-anchor="middle" fill="#1a1a1a" textLength="10.6" lengthAdjust="spacingAndGlyphs">Milk</text>
<rect x="39.10" y="449.8" width="0.9" height="3.2" fill="#b2b2b2"/>
<text x="38.6" y="459.7" font-size="6.4" text-anchor="middle" font-weight="normal" fill="#1a1a1a" textLength="11.6" lengthAdjust="spacingAndGlyphs">3.50</text>
<rect x="53.76" y="449.8" width="0.9" height="3.2" fill="#b2b2b2"/>
<text x="53.26" y="459.7" font-size="6.4" text-anchor="middle" font-weight="normal" fill="#1a1a1a" textLength="11.6" lengthAdjust="spacingAndGlyphs">3.75</text>
<rect x="68.42" y="449.8" width="0.9" height="3.2" fill="#b2b2b2"/>
<text x="67.92" y="459.7" font-size="6.4" text-anchor="middle" font-weight="normal" fill="#1a1a1a" textLength="11.6" lengthAdjust="spacingAndGlyphs">4.00</text>
<rect x="83.08" y="449.8" width="0.9" height="3.2" fill="#b2b2b2"/>
<text x="82.58" y="459.7" font-size="6.4" text-anchor="middle" font-weight="normal" fill="#1a1a1a" textLength="11.6" lengthAdjust="spacingAndGlyphs">4.25</text>
<rect x="97.74" y="449.8" width="0.9" height="3.2" fill="#b2b2b2"/>
<text x="97.24" y="459.7" font-size="6.4" text-anchor="middle" font-weight="normal" fill="#1a1a1a" textLength="11.6" lengthAdjust="spacingAndGlyphs">4.50</text>
<rect x="112.40" y="449.8" width="0.9" height="3.2" fill="#b2b2b2"/>
<text x="111.9" y="459.7" font-size="6.4" text-anchor="middle" font-weight="normal" fill="#1a1a1a" textLength="11.6" lengthAdjust="spacingAndGlyphs">4.75</text>
<rect x="137.55" y="449.8" width="0.9" height="3.2" fill="#b2b2b2"/>
<text x="137.3" y="459.7" font-size="6.4" text-anchor="middle" font-weight="normal" fill="#1a1a1a" textLength="11.6" lengthAdjust="spacingAndGlyphs">3.50</text>
<rect x="152.21" y="449.8" width="0.9" height="3.2" fill="#b2b2b2"/>
<text x="151.96" y="459.7" font-size="6.4" text-anchor="middle" font-weight="normal" fill="#1a1a1a" textLength="11.6" lengthAdjust="spacingAndGlyphs">3.75</text>
<rect x="166.87" y="449.8" width="0.9" height="3.2" fill="#b2b2b2"/>
<text x="166.62" y="459.7" font-size="6.4" text-anchor="middle" font-weight="normal" fill="#1a1a1a" textLength="11.6" lengthAdjust="spacingAndGlyphs">4.00</text>
<rect x="181.53" y="449.8" width="0.9" height="3.2" fill="#b2b2b2"/>
<text x="181.28" y="459.7" font-size="6.4" text-anchor="middle" font-weight="normal" fill="#1a1a1a" textLength="11.6" lengthAdjust="spacingAndGlyphs">4.25</text>
<rect x="196.19" y="449.8" width="0.9" height="3.2" fill="#b2b2b2"/>
<text x="195.94" y="459.7" font-size="6.4" text-anchor="middle" font-weight="normal" fill="#1a1a1a" textLength="11.6" lengthAdjust="spacingAndGlyphs">4.50</text>
<rect x="210.85" y="449.8" width="0.9" height="3.2" fill="#b2b2b2"/>
<text x="210.6" y="459.7" font-size="6.4" text-anchor="middle" font-weight="normal" fill="#1a1a1a" textLength="11.6" lengthAdjust="spacingAndGlyphs">4.75</text>
<rect x="236.30" y="449.8" width="0.9" height="3.2" fill="#b2b2b2"/>
<text x="235.9" y="459.7" font-size="6.4" text-anchor="middle" font-weight="normal" fill="#1a1a1a" textLength="11.6" lengthAdjust="spacingAndGlyphs">3.50</text>
<rect x="250.96" y="449.8" width="0.9" height="3.2" fill="#b2b2b2"/>
<text x="250.56" y="459.7" font-size="6.4" text-anchor="middle" font-weight="normal" fill="#1a1a1a" textLength="11.6" lengthAdjust="spacingAndGlyphs">3.75</text>
<rect x="265.62" y="449.8" width="0.9" height="3.2" fill="#b2b2b2"/>
<text x="265.22" y="459.7" font-size="6.4" text-anchor="middle" font-weight="normal" fill="#1a1a1a" textLength="11.6" lengthAdjust="spacingAndGlyphs">4.00</text>
<rect x="280.28" y="449.8" width="0.9" height="3.2" fill="#b2b2b2"/>
<text x="279.88" y="459.7" font-size="6.4" text-anchor="middle" font-weight="normal" fill="#1a1a1a" textLength="11.6" lengthAdjust="spacingAndGlyphs">4.25</text>
<rect x="294.94" y="449.8" width="0.9" height="3.2" fill="#b2b2b2"/>
<text x="294.54" y="459.7" font-size="6.4" text-anchor="middle" font-weight="normal" fill="#1a1a1a" textLength="11.6" lengthAdjust="spacingAndGlyphs">4.50</text>
<rect x="309.60" y="449.8" width="0.9" height="3.2" fill="#b2b2b2"/>
<text x="309.2" y="459.7" font-size="6.4" text-anchor="middle" font-weight="normal" fill="#1a1a1a" textLength="11.6" lengthAdjust="spacingAndGlyphs">4.75</text>
<rect x="334.95" y="449.8" width="0.9" height="3.2" fill="#b2b2b2"/>
<text x="334.4" y="459.7" font-size="6.4" text-anchor="middle" font-weight="normal" fill="#1a1a1a" textLength="11.6" lengthAdjust="spacingAndGlyphs">3.50</text>
<rect x="349.61" y="449.8" width="0.9" height="3.2" fill="#b2b2b2"/>
<text x="349.06" y="459.7" font-size="6.4" text-anchor="middle" font-weight="normal" fill="#1a1a1a" textLength="11.6" lengthAdjust="spacingAndGlyphs">3.75</text>
<rect x="364.27" y="449.8" width="0.9" height="3.2" fill="#b2b2b2"/>
<text x="363.72" y="459.7" font-size="6.4" text-anchor="middle" font-weight="normal" fill="#1a1a1a" textLength="11.6" lengthAdjust="spacingAndGlyphs">4.00</text>
<rect x="378.93" y="449.8" width="0.9" height="3.2" fill="#b2b2b2"/>
<text x="378.38" y="459.7" font-size="6.4" text-anchor="middle" font-weight="normal" fill="#1a1a1a" textLength="11.6" lengthAdjust="spacingAndGlyphs">4.25</text>
<rect x="393.59" y="449.8" width="0.9" height="3.2" fill="#b2b2b2"/>
<text x="393.04" y="459.7" font-size="6.4" text-anchor="middle" font-weight="normal" fill="#1a1a1a" textLength="11.6" lengthAdjust="spacingAndGlyphs">4.50</text>
<rect x="408.25" y="449.8" width="0.9" height="3.2" fill="#b2b2b2"/>
<text x="407.7" y="459.7" font-size="6.4" text-anchor="middle" font-weight="normal" fill="#1a1a1a" textLength="11.6" lengthAdjust="spacingAndGlyphs">4.75</text>
<rect x="433.55" y="449.8" width="0.9" height="3.2" fill="#b2b2b2"/>
<text x="432.9" y="459.7" font-size="6.4" text-anchor="middle" font-weight="normal" fill="#1a1a1a" textLength="11.6" lengthAdjust="spacingAndGlyphs">3.50</text>
<rect x="448.21" y="449.8" width="0.9" height="3.2" fill="#b2b2b2"/>
<text x="447.56" y="459.7" font-size="6.4" text-anchor="middle" font-weight="normal" fill="#1a1a1a" textLength="11.6" lengthAdjust="spacingAndGlyphs">3.75</text>
<rect x="462.87" y="449.8" width="0.9" height="3.2" fill="#b2b2b2"/>
<text x="462.22" y="459.7" font-size="6.4" text-anchor="middle" font-weight="normal" fill="#1a1a1a" textLength="11.6" lengthAdjust="spacingAndGlyphs">4.00</text>
<rect x="477.53" y="449.8" width="0.9" height="3.2" fill="#b2b2b2"/>
<text x="476.88" y="459.7" font-size="6.4" text-anchor="middle" font-weight="normal" fill="#1a1a1a" textLength="11.6" lengthAdjust="spacingAndGlyphs">4.25</text>
<rect x="492.19" y="449.8" width="0.9" height="3.2" fill="#b2b2b2"/>
<text x="491.54" y="459.7" font-size="6.4" text-anchor="middle" font-weight="normal" fill="#1a1a1a" textLength="11.6" lengthAdjust="spacingAndGlyphs">4.50</text>
<rect x="506.85" y="449.8" width="0.9" height="3.2" fill="#b2b2b2"/>
<text x="506.2" y="459.7" font-size="6.4" text-anchor="middle" font-weight="normal" fill="#1a1a1a" textLength="11.6" lengthAdjust="spacingAndGlyphs">4.75</text>
<text x="277.3" y="468.8" font-size="6.4" text-anchor="middle" font-weight="normal" fill="#1a1a1a" textLength="37.4" lengthAdjust="spacingAndGlyphs">Infusing Time</text>
<text x="7.4" y="477.7" font-size="6.4" text-anchor="start" font-weight="normal" fill="#1a1a1a" textLength="289.2" lengthAdjust="spacingAndGlyphs">Where((Sweetness Desirability &gt;= 0.10119 &amp; Sweetness Desirability &lt;= 0.999999999998765) and (Flavour</text>
<text x="7.4" y="485.7" font-size="6.4" text-anchor="start" font-weight="normal" fill="#1a1a1a" textLength="299.4" lengthAdjust="spacingAndGlyphs">Desirability &gt;= 0.10119 &amp; Flavour Desirability &lt;= 0.999999996429132) and (Colour Desirability &gt;= 0.09524 &amp;</text>
<text x="7.4" y="493.6" font-size="6.4" text-anchor="start" font-weight="normal" fill="#1a1a1a" textLength="122.6" lengthAdjust="spacingAndGlyphs">Colour Desirability &lt;= 0.99999998200725)..)</text>
<rect x="546" y="37.7" width="10.4" height="11.50" fill="#ff0000"/>
<rect x="546" y="49.1" width="10.4" height="10.00" fill="#d97f86"/>
<rect x="546" y="59.0" width="10.4" height="10.40" fill="#8d93d6"/>
<rect x="546" y="69.3" width="10.4" height="10.40" fill="#2b3fff"/>
<rect x="556.4" y="38.00" width="1.6" height="0.8" fill="#ff0000"/>
<text x="561.3" y="40.7" font-size="6.4" text-anchor="start" font-weight="normal" fill="#1a1a1a" textLength="11.6" lengthAdjust="spacingAndGlyphs">1.00</text>
<rect x="556.4" y="48.32" width="1.6" height="0.8" fill="#d97f86"/>
<text x="561.3" y="51.02" font-size="6.4" text-anchor="start" font-weight="normal" fill="#1a1a1a" textLength="11.6" lengthAdjust="spacingAndGlyphs">0.75</text>
<rect x="556.4" y="58.64" width="1.6" height="0.8" fill="#8d93d6"/>
<text x="561.3" y="61.34" font-size="6.4" text-anchor="start" font-weight="normal" fill="#1a1a1a" textLength="11.6" lengthAdjust="spacingAndGlyphs">0.50</text>
<rect x="556.4" y="68.96" width="1.6" height="0.8" fill="#2b3fff"/>
<text x="561.3" y="71.66" font-size="6.4" text-anchor="start" font-weight="normal" fill="#1a1a1a" textLength="11.6" lengthAdjust="spacingAndGlyphs">0.25</text>
<rect x="556.4" y="79.28" width="1.6" height="0.8" fill="#2b3fff"/>
<text x="561.3" y="81.98" font-size="6.4" text-anchor="start" font-weight="normal" fill="#1a1a1a" textLength="11.6" lengthAdjust="spacingAndGlyphs">0.00</text>
<text x="574.4" y="61.34" font-size="6.4" text-anchor="start" font-weight="normal" fill="#1a1a1a" textLength="49.9" lengthAdjust="spacingAndGlyphs">Overall desirability</text>
<rect x="546" y="88.3" width="10.2" height="1.3" fill="#858585"/>
<text x="558.1" y="91.3" font-size="6.4" text-anchor="start" font-weight="normal" fill="#1a1a1a" textLength="25.8" lengthAdjust="spacingAndGlyphs">Boundary</text>
</svg></body></html>
